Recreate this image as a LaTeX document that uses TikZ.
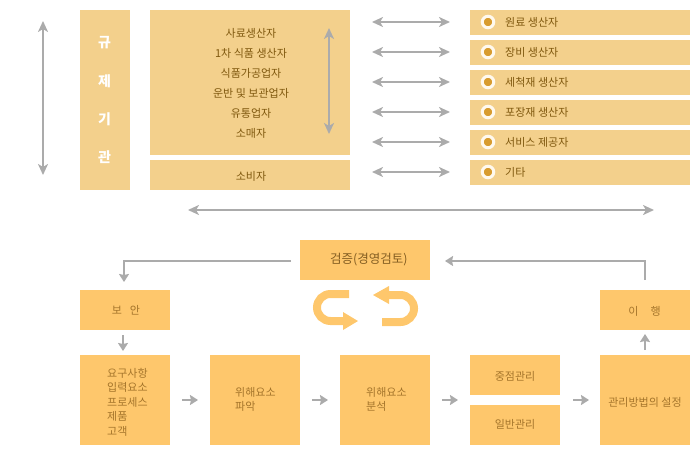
\documentclass[tikz,border=0pt]{standalone}
\usepackage{fontspec}
\setmainfont{Noto Sans CJK KR}
\usetikzlibrary{arrows.meta}
\definecolor{pale}{HTML}{F3D08C}
\definecolor{gold}{HTML}{FEC76C}
\definecolor{arrowgrey}{HTML}{ABABAB}
\definecolor{darktext}{HTML}{80590F}
\definecolor{softtext}{HTML}{A5752B}
\definecolor{dot}{HTML}{D89C2F}
\definecolor{ring}{HTML}{FFF9EE}
\tikzset{
  x=1pt,y=-1pt,
  panel/.style={fill=pale,draw=none,inner sep=0pt,text=darktext,font=\fontsize{11}{14.5}\selectfont},
  goldbox/.style={fill=gold,draw=none,inner sep=0pt,text=softtext,font=\fontsize{11}{14.5}\selectfont},
  lbl/.style={inner sep=0pt,text=darktext,font=\fontsize{11}{14.5}\selectfont},
  softlbl/.style={inner sep=0pt,text=softtext,font=\fontsize{11}{14.5}\selectfont,align=left},
  headword/.style={inner sep=0pt,text=white,font=\fontsize{14}{16}\selectfont\bfseries},
  twoway/.style={draw=arrowgrey,line width=2pt,{Stealth[length=11pt,width=10pt,inset=3pt]}-{Stealth[length=11pt,width=10pt,inset=3pt]}},
  oneway/.style={draw=arrowgrey,line width=2pt,-{Stealth[length=8pt,width=10pt,inset=1pt]}},
  band/.style={draw=gold,line width=8pt},
  tipfill/.style={fill=gold,draw=none},
}
\begin{document}
\begin{tikzpicture}
\useasboundingbox (0,0) rectangle (700,455);
% top left
\node[panel,minimum width=50pt,minimum height=180pt,anchor=north west] (reg) at (80,10) {};
\node[panel,minimum width=200pt,minimum height=145pt,anchor=north west] (chain) at (150,10) {};
\node[panel,minimum width=200pt,minimum height=30pt,anchor=north west] (cons) at (150,160) {};
\node[headword] (r1) at (104.5,43) {규};
\node[headword] (r2) at (104.5,81) {제};
\node[headword] (r3) at (104.5,119) {기};
\node[headword] (r4) at (104.5,157) {관};
\node[lbl] (c1) at (251,33.5) {사료생산자};
\node[lbl] (c2) at (251,53.5) {1차 식품 생산자};
\node[lbl] (c3) at (251,73.5) {식품가공업자};
\node[lbl] (c4) at (251,93.5) {운반 및 보관업자};
\node[lbl] (c5) at (251,113.5) {유통업자};
\node[lbl] (c6) at (251,133.5) {소매자};
\node[lbl] (c7) at (251,176.5) {소비자};
\coordinate (la) at (43,21);
\coordinate (lb) at (43,175);
\draw[twoway] (la) -- (lb);
\coordinate (ia) at (329,28);
\coordinate (ib) at (329,134);
\draw[twoway] (ia) -- (ib);
\coordinate (wa) at (188,210);
\coordinate (wb) at (654,210);
\draw[twoway] (wa) -- (wb);
% top right rows
\foreach \n/\y/\t in {1/10/원료 생산자,2/40/장비 생산자,3/70/세척재 생산자,4/100/포장재 생산자,5/130/서비스 제공자,6/160/기타}{
  \node[panel,minimum width=220pt,minimum height=25pt,anchor=north west] (s\n) at (470,\y) {};
  \node[circle,fill=dot,draw=ring,line width=3pt,minimum size=11.5pt,inner sep=0pt] (d\n) at (488,\y+12) {};
  \node[lbl,anchor=west] (t\n) at (505,\y+12.5) {\t};
  \coordinate (aL\n) at (372,\y+12);
  \coordinate (aR\n) at (450,\y+12);
  \draw[twoway] (aL\n) -- (aR\n);
}
% lower boxes
\node[goldbox,minimum width=130pt,minimum height=40pt,anchor=north west] (verify) at (300,240) {};
\node[inner sep=0pt,text=softtext!80!black,anchor=west,font=\fontsize{12.5}{14}\selectfont] (verifyt) at (330,259.5) {검증(경영검토)};
\node[goldbox,minimum width=90pt,minimum height=40pt,anchor=north west] (act) at (80,290) {};
\node[softlbl] (actt) at (126,310) {보\hspace{8pt}안};
\node[goldbox,minimum width=90pt,minimum height=40pt,anchor=north west] (impl) at (600,290) {};
\node[softlbl] (implt) at (644.5,311) {이\hspace{12pt}행};
\node[goldbox,minimum width=90pt,minimum height=90pt,anchor=north west] (inp) at (80,355) {};
\node[softlbl,anchor=north west] (inpt) at (107,368) {요구사항\\입력요소\\프로세스\\제품\\고객};
\node[goldbox,minimum width=90pt,minimum height=90pt,anchor=north west] (iden) at (210,355) {};
\node[softlbl,anchor=north west] (ident) at (235,387) {위해요소\\파악};
\node[goldbox,minimum width=90pt,minimum height=90pt,anchor=north west] (anal) at (340,355) {};
\node[softlbl,anchor=north west] (analt) at (366,387) {위해요소\\분석};
\node[goldbox,minimum width=90pt,minimum height=40pt,anchor=north west] (focus) at (470,355) {};
\node[softlbl] (focust) at (515,376) {중점관리};
\node[goldbox,minimum width=90pt,minimum height=40pt,anchor=north west] (gen) at (470,405) {};
\node[softlbl] (gent) at (515,424.5) {일반관리};
\node[goldbox,minimum width=90pt,minimum height=90pt,anchor=north west] (mgmt) at (600,355) {};
\node[softlbl] (mgmtt) at (645,402) {관리방법의 설정};
% flow arrows
\foreach \n/\a/\b in {1/182/198,2/312/328,3/442/458,4/573/589}{
  \coordinate (fa\n) at (\a,400);
  \coordinate (fb\n) at (\b,400);
  \draw[oneway] (fa\n) -- (fb\n);
}
\coordinate (dn1) at (123,335);
\coordinate (dn2) at (123,351);
\draw[oneway] (dn1) -- (dn2);
\coordinate (up1) at (645,350);
\coordinate (up2) at (645,334);
\draw[oneway] (up1) -- (up2);
\coordinate (el1) at (291,261);
\coordinate (el2) at (124,261);
\coordinate (el3) at (124,282);
\draw[oneway] (el1) -- (el2) -- (el3);
\coordinate (er1) at (645,280);
\coordinate (er2) at (645,261);
\coordinate (er3) at (445,261);
\draw[oneway] (er1) -- (er2) -- (er3);
% cycle arrows
\draw[band] (349,294) -- (330.5,294) arc[start angle=270,end angle=90,radius=13.5] -- (344,321);
\fill[tipfill] (343,312) -- (358,321) -- (343,330) -- cycle;
\draw[band] (382,322) -- (400.5,322) arc[start angle=90,end angle=-90,radius=13.5] -- (387,295);
\fill[tipfill] (389,286) -- (373,295) -- (389,304) -- cycle;
\end{tikzpicture}
\end{document}
